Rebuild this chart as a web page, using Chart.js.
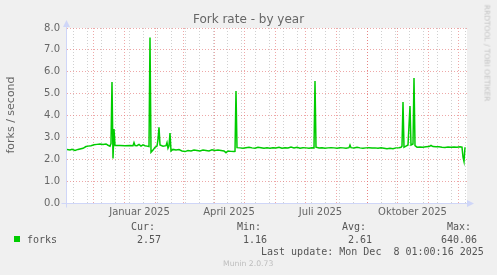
<!DOCTYPE html>
<html>
<head>
<meta charset="utf-8">
<script src="https://cdn.jsdelivr.net/npm/chart.js@4"></script>
<style>
    body { margin: 0; background: #f0f0f0; }
    #wrap { position: relative; width: 497px; height: 275px; overflow: hidden; }
    #wrap canvas { position: absolute; left: 0; top: 0; }
    .txt { position: absolute; white-space: pre; color: #666; font-family: 'DejaVu Sans', sans-serif; }
    .mono { font-family: 'DejaVu Sans Mono', monospace; font-size: 10px; line-height: 12px; color: #555; }
</style>
</head>
<body>
<div id="wrap">
    <canvas id="forkChart" width="497" height="275"></canvas>

    <div class="txt" style="left:0; width:497px; top:11px; text-align:center; font-size:12px; line-height:16px;">Fork rate - by year</div>
    <div class="txt" style="left:11px; top:115px; font-size:11px; line-height:12px; transform: translate(-50%, -50%) rotate(-90deg);">forks / second</div>
    <div class="txt" style="left:487px; top:53px; font-size:7.5px; line-height:9px; color:#c4c4c4; transform: translate(-50%, -50%) rotate(90deg);">RRDTOOL / TOBI OETIKER</div>

    <!-- legend -->
    <div style="position:absolute; left:14px; top:236px; width:6px; height:6px; background:#00cc00;"></div>
    <div class="txt mono" style="left:27px; top:234px;">forks</div>
    <div class="txt mono" style="left:131px; top:221px;">Cur:</div>
    <div class="txt mono" style="left:137px; top:234px;">2.57</div>
    <div class="txt mono" style="left:237px; top:221px;">Min:</div>
    <div class="txt mono" style="left:243px; top:234px;">1.16</div>
    <div class="txt mono" style="left:342px; top:221px;">Avg:</div>
    <div class="txt mono" style="left:348px; top:234px;">2.61</div>
    <div class="txt mono" style="left:447px; top:221px;">Max:</div>
    <div class="txt mono" style="left:441px; top:234px;">640.06</div>
    <div class="txt mono" style="left:261px; top:246px;">Last update: Mon Dec  8 01:00:16 2025</div>
    <div class="txt" style="left:223px; top:259px; font-size:7.7px; line-height:10px; color:#bdbdbd;">Munin 2.0.73</div>
</div>

<script>
// ── DATA (x = days since 1 Jan 2025) ──
const days = [
    -57, -54, -52, -49, -46, -44, -41, -38, -36, -33, -30, -27, -24, -21, -18, -16, -14, -13, -12, -11, -10, -9,
    -4, 1, 6, 9, 10, 11, 13, 15, 17, 19, 21, 23, 25, 26, 27, 29, 31, 33, 34, 35, 36, 39, 42, 43, 44, 45, 46, 47,
    49, 52, 55, 58, 61, 64, 67, 70, 73, 76, 79, 82, 85, 88, 91, 94, 97, 100, 102, 104, 107, 110, 111, 112, 113,
    116, 119, 122, 125, 128, 131, 134, 137, 140, 143, 146, 149, 152, 155, 158, 161, 164, 167, 170, 173, 176,
    179, 182, 185, 188, 190, 191, 192, 195, 198, 201, 204, 207, 210, 213, 216, 219, 222, 225, 226, 227, 230,
    233, 236, 239, 242, 245, 248, 251, 254, 257, 260, 263, 266, 269, 272, 275, 277, 278, 279, 280, 282, 284,
    286, 287, 289, 290, 291, 293, 296, 299, 302, 305, 307, 309, 312, 315, 318, 321, 324, 327, 330, 333, 336,
    338, 339, 340, 341
];
const forks = [
    2.45, 2.42, 2.45, 2.40, 2.45, 2.47, 2.50, 2.58, 2.60, 2.62, 2.66, 2.68, 2.70, 2.68, 2.70, 2.64, 2.60, 2.72, 5.53, 2.03, 3.38, 2.63,
    2.63, 2.62, 2.63, 2.62, 2.76, 2.63, 2.62, 2.68, 2.60, 2.66, 2.62, 2.60, 2.58, 7.57, 2.32, 2.42, 2.55, 2.60, 2.90, 3.46, 2.65, 2.60, 2.62, 2.76, 2.50, 2.60, 3.20, 2.38,
    2.45, 2.42, 2.44, 2.38, 2.35, 2.40, 2.38, 2.42, 2.40, 2.38, 2.42, 2.40, 2.38, 2.43, 2.40, 2.42, 2.40, 2.38, 2.30, 2.38, 2.36, 2.35, 2.36, 5.12, 2.53,
    2.52, 2.50, 2.53, 2.55, 2.52, 2.50, 2.55, 2.53, 2.50, 2.52, 2.50, 2.53, 2.52, 2.55, 2.50, 2.53, 2.52, 2.56, 2.52, 2.55, 2.50,
    2.53, 2.52, 2.50, 2.53, 2.52, 5.58, 2.55, 2.52, 2.53, 2.50, 2.52, 2.53, 2.52, 2.50, 2.53, 2.52, 2.50, 2.53, 2.65, 2.53, 2.52,
    2.55, 2.52, 2.50, 2.52, 2.53, 2.52, 2.52, 2.50, 2.52, 2.50, 2.48, 2.50, 2.48, 2.52, 2.53, 2.55, 2.60, 4.62, 2.55, 2.60, 2.65,
    4.43, 2.65, 2.70, 5.71, 2.62, 2.55, 2.56, 2.55, 2.57, 2.58, 2.63, 2.58, 2.57, 2.57, 2.55, 2.54, 2.56, 2.55, 2.56, 2.55, 2.57,
    2.55, 2.10, 1.90, 2.55
];

// ── AXIS TICKS ──
const yTicks = [0, 1, 2, 3, 4, 5, 6, 7, 8];
const monthStarts = [-31, 0, 31, 59, 90, 120, 151, 181, 212, 243, 273, 304, 334];
const minorTicks = [-51, -37, -23, -9, 5, 19, 33, 47, 61, 75, 89, 103, 117, 131, 145, 159, 173, 187, 201, 215, 229, 243, 257, 271, 285, 299, 313, 327, 341];
const quarterPos = [15.5, 105, 196.5, 288.5];
const quarterLabels = ['Januar 2025', 'April 2025', 'Juli 2025', 'Oktober 2025'];

const RED = 'rgba(226, 110, 110, 0.6)';
const GRAY = 'rgba(150, 150, 150, 0.45)';
const AXIS = '#cfd6f8';

// ── PLOT BACKGROUND + AXES WITH ARROWS ──
const muninFrame = {
    id: 'muninFrame',
    beforeDraw(chart) {
        const { ctx, chartArea: a } = chart;
        ctx.save();
        ctx.fillStyle = '#ffffff';
        ctx.fillRect(a.left, a.top, a.right - a.left, a.bottom - a.top);
        ctx.restore();
    },
    afterDatasetsDraw(chart) {
        const { ctx, chartArea: a } = chart;
        const ax = a.left - 0.5, ay = a.bottom + 0.5;
        ctx.save();
        ctx.strokeStyle = AXIS;
        ctx.fillStyle = AXIS;
        ctx.lineWidth = 1;
        ctx.beginPath();
        ctx.moveTo(ax, ay + 4); ctx.lineTo(ax, a.top - 4);
        ctx.moveTo(ax - 5, ay); ctx.lineTo(a.right + 3, ay);
        ctx.stroke();
        ctx.beginPath();
        ctx.moveTo(ax, a.top - 8); ctx.lineTo(ax - 3.5, a.top - 1); ctx.lineTo(ax + 3.5, a.top - 1);
        ctx.closePath(); ctx.fill();
        ctx.beginPath();
        ctx.moveTo(a.right + 7, ay); ctx.lineTo(a.right, ay - 3.5); ctx.lineTo(a.right, ay + 3.5);
        ctx.closePath(); ctx.fill();
        ctx.restore();
    }
};

const xTickValues = [...minorTicks, ...monthStarts, ...quarterPos].sort((a, b) => a - b);

new Chart(document.getElementById('forkChart'), {
    type: 'line',
    data: {
        datasets: [{
            label: 'forks',
            data: days.map((d, i) => ({ x: d, y: forks[i] })),
            borderColor: '#00cc00',
            borderWidth: 1.5,
            pointRadius: 0,
            tension: 0,
            fill: false
        }]
    },
    options: {
        responsive: false,
        animation: false,
        devicePixelRatio: 1,
        layout: { padding: { left: 0, top: 28, right: 30, bottom: 57 } },
        plugins: { legend: { display: false }, tooltip: { enabled: false } },
        scales: {
            x: {
                type: 'linear',
                min: -57,
                max: 343,
                afterBuildTicks: (scale) => { scale.ticks = xTickValues.map(v => ({ value: v })); },
                afterFit: (scale) => { scale.height = 15; },
                border: { display: false, dash: [1, 2] },
                grid: {
                    drawTicks: false,
                    color: (c) => {
                        const v = c.tick && c.tick.value;
                        if (monthStarts.includes(v)) return RED;
                        if (minorTicks.includes(v)) return GRAY;
                        return 'rgba(0,0,0,0)';
                    }
                },
                ticks: {
                    autoSkip: false,
                    maxRotation: 0,
                    padding: 3,
                    color: '#666',
                    font: { family: "'DejaVu Sans', sans-serif", size: 10 },
                    callback: (v) => {
                        const i = quarterPos.indexOf(v);
                        return i >= 0 ? quarterLabels[i] : '';
                    }
                }
            },
            y: {
                min: 0,
                max: 8,
                afterFit: (scale) => { scale.width = 67; },
                border: { display: false, dash: [1, 2] },
                grid: {
                    drawTicks: false,
                    color: (c) => (yTicks.includes(c.tick.value) ? RED : GRAY)
                },
                ticks: {
                    stepSize: 0.5,
                    padding: 7,
                    color: '#666',
                    font: { family: "'DejaVu Sans', sans-serif", size: 10 },
                    callback: (v) => (yTicks.includes(v) ? v.toFixed(1) : '')
                }
            }
        }
    },
    plugins: [muninFrame]
});
</script>
</body>
</html>
